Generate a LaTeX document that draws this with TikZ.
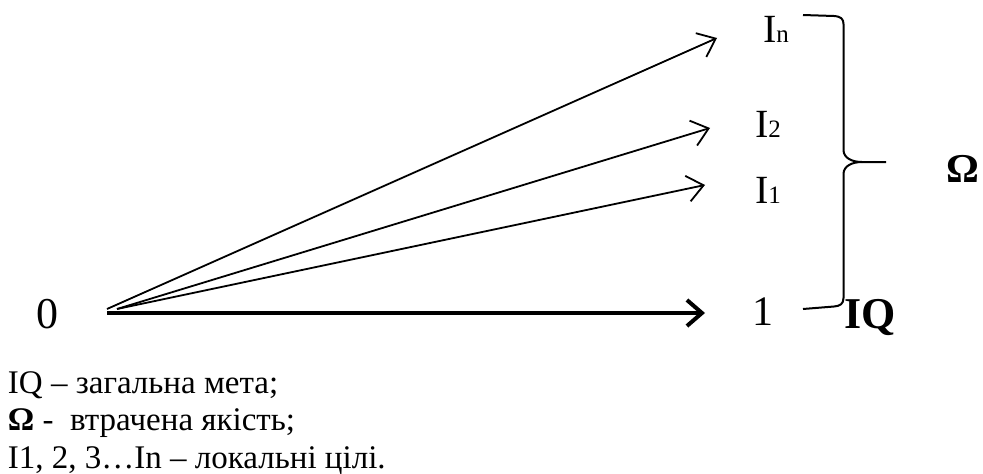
\documentclass[tikz,border=0pt]{standalone}
\usepackage{fontspec}
\setmainfont{Liberation Serif}
\usetikzlibrary{arrows.meta}
\tikzset{
  lbl/.style={inner sep=0pt, outer sep=0pt, anchor=base west},
  thinarrow/.style={line width=1.8pt, -{Straight Barb[length=16pt,width=26pt,line width=1.8pt]}},
  mainarrow/.style={line width=4pt, -{Straight Barb[length=15pt,width=26pt,line width=4pt]}},
  bracepath/.style={line width=2pt, line join=round}
}
\newcommand{\biglbl}{\fontsize{40}{46}\selectfont}
\newcommand{\idxlbl}{\fontsize{25}{30}\selectfont}
\begin{document}
\begin{tikzpicture}[x=1pt,y=-1pt]
\useasboundingbox (0,0) rectangle (983,474);
% labels
\node[lbl] (zero) at (36,328) {\fontsize{44}{50}\selectfont 0};
\node[lbl] (one) at (752,325) {\fontsize{42}{48}\selectfont 1};
\node[lbl] (in) at (763,42) {\biglbl I\idxlbl n};
\node[lbl] (i2) at (755,137) {\biglbl I\idxlbl 2};
\node[lbl] (i1) at (755,203) {\biglbl I\idxlbl 1};
\node[lbl] (iq) at (844,328) {\fontsize{44}{50}\selectfont\bfseries IQ};
\node[lbl] (om) at (946,182) {\fontsize{41}{46}\selectfont\bfseries Ω};
% legend
\node[lbl] (leg1) at (8,393) {\fontsize{33}{38}\selectfont IQ – загальна мета;};
\node[lbl] (leg2) at (8,430.5) {\fontsize{33}{38}\selectfont \textbf{Ω} -\ \ втрачена якість;};
\node[lbl] (leg3) at (8,468) {\fontsize{33}{38}\selectfont I1, 2, 3…In – локальні цілі.};
% arrow coordinates
\coordinate (oa) at (107,309);
\coordinate (ob) at (117,309);
\coordinate (om0) at (107,313);
\coordinate (tn) at (717,38);
\coordinate (t2) at (710,128);
\coordinate (t1) at (705,185);
\coordinate (t0) at (705,313);
\draw[thinarrow] (oa) -- (tn);
\draw[thinarrow] (ob) -- (t2);
\draw[thinarrow] (ob) -- (t1);
\draw[mainarrow] (om0) -- (t0);
% brace
\draw[bracepath] (803,15) -- (834,16) .. controls (841,16.5) and (843.5,19) .. (843.5,24)
  -- (843.5,150) .. controls (843.5,158) and (852,162) .. (862,162) -- (886,162);
\draw[bracepath] (862,162) .. controls (852,162) and (843.5,166) .. (843.5,174)
  -- (843.5,298) .. controls (843.5,304) and (840,306) .. (834,306.5) -- (803,309);
\end{tikzpicture}
\end{document}
